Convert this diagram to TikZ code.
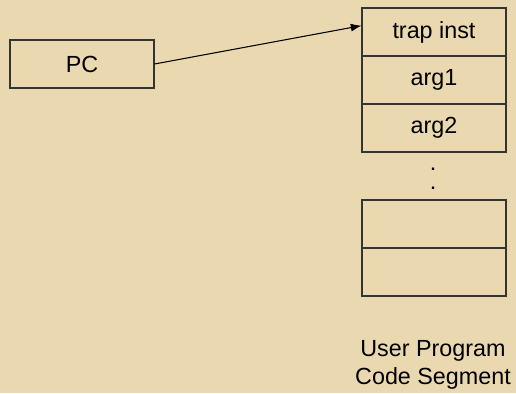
\documentclass[tikz,border=0pt]{standalone}
\usepackage{fontspec}
\setmainfont{Liberation Sans}
\usetikzlibrary{arrows.meta}

\begin{document}
\begin{tikzpicture}[
    x=0.75pt, y=-0.75pt,
    font=\fontsize{17.5}{21}\selectfont,
    cell/.style={draw=black!80, line width=0.8pt,
                 minimum width=108pt, minimum height=36pt,
                 inner sep=0pt, anchor=center}
]

% Hintergrund
\fill[fill={rgb,255:red,234;green,216;blue,176}] (0,0) rectangle (516,393);
\useasboundingbox (0,0) rectangle (516,393);

% Register
\node[cell] (pc) at (82,64) {PC};

% Codesegment
\node[cell] (trap) at (434,32)  {trap inst};
\node[cell] (arg1) at (434,80)  {arg1};
\node[cell] (arg2) at (434,128) {arg2};

\node[align=center, inner sep=0pt, font=\fontsize{17.5}{14.25}\selectfont]
    (dots) at (433,179) {.\\.};

\node[cell] (free1) at (434,224) {};
\node[cell] (free2) at (434,272) {};

\node[align=center] (seg) at (433,365) {User Program\\Code Segment};

% Zeiger
\draw[-{Latex[length=8pt,width=6pt]}, line width=0.8pt] (pc.east) -- (trap.175);

\end{tikzpicture}
\end{document}
